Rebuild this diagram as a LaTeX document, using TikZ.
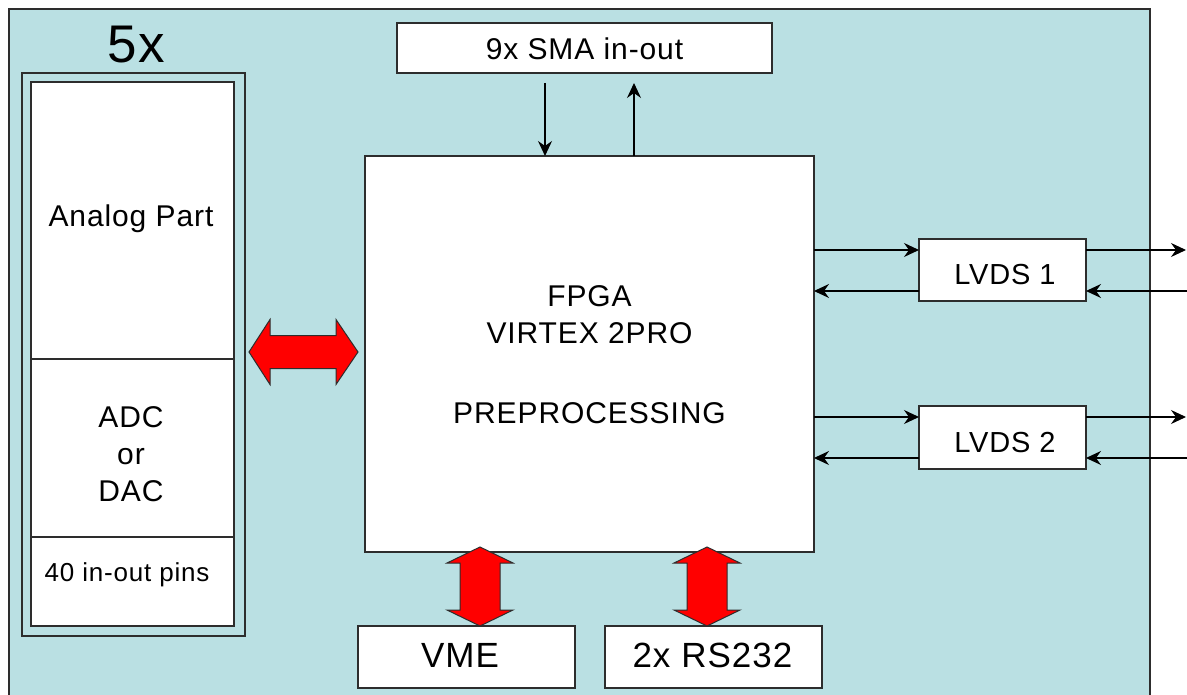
\documentclass[tikz,border=0pt]{standalone}
\usepackage{fontspec}
\setmainfont{Liberation Sans}[LetterSpace=3]
\usetikzlibrary{arrows.meta,calc}
\definecolor{bgc}{RGB}{186,224,227}
\definecolor{edgec}{RGB}{45,45,45}
\newcommand\fsz[1]{\fontsize{#1}{#1}\selectfont}
\newcommand\harr[2]{\draw[redarr] (#1) -- ($(#1)+(21,-32.5)$) -- ($(#1)+(21,-16.5)$) -- ($(#2)+(-22,-16.5)$) -- ($(#2)+(-22,-32.5)$) -- (#2) -- ($(#2)+(-22,32.5)$) -- ($(#2)+(-22,16.5)$) -- ($(#1)+(21,16.5)$) -- ($(#1)+(21,32.5)$) -- cycle;}
\newcommand\varr[2]{\draw[redarr] (#1) -- ($(#1)+(33,16)$) -- ($(#1)+(20,16)$) -- ($(#2)+(20,-16)$) -- ($(#2)+(33,-16)$) -- (#2) -- ($(#2)+(-33,-16)$) -- ($(#2)+(-20,-16)$) -- ($(#1)+(-20,16)$) -- ($(#1)+(-33,16)$) -- cycle;}
\begin{document}
\begin{tikzpicture}[x=1pt,y=-1pt,
  box/.style={draw=edgec, line width=1.4pt, fill=white, anchor=north west, inner sep=0pt, outer sep=0pt},
  lbl/.style={anchor=base, inner sep=0pt, outer sep=0pt, text=black},
  arr/.style={draw=black, line width=1.2pt, -{Stealth[length=15pt,width=14pt,inset=5pt]}},
  redarr/.style={fill=red, draw=edgec, line width=1pt, line join=miter}]
\useasboundingbox (0,0) rectangle (1187,695);
% background panel
\fill[bgc] (9,9) rectangle (1150,700);
\draw[edgec, line width=1.4pt] (9,700) -- (9,9) -- (1150,9) -- (1150,700);

% 5x block
\node[box, fill=none, minimum width=223pt, minimum height=563pt] (outer) at (22,73) {};
\node[box, minimum width=203pt, minimum height=544pt] (inner) at (31,82) {};
\draw[edgec, line width=1.4pt] (inner.west |- 0,359) -- (inner.east |- 0,359);
\draw[edgec, line width=1.4pt] (inner.west |- 0,537) -- (inner.east |- 0,537);
\node[lbl, font=\fsz{53}] (t5x) at (136,63) {5x};
\node[lbl, font=\fsz{30}] (tanalog) at (131,227) {Analog Part};
\node[lbl, font=\fsz{30}] (tadc) at (131,427) {ADC};
\node[lbl, font=\fsz{30}] (tor) at (131,464) {or};
\node[lbl, font=\fsz{30}] (tdac) at (131,501) {DAC};
\node[lbl, font=\fsz{26}] (tpins) at (127,581) {40 in-out pins};

% boxes
\node[box, minimum width=375pt, minimum height=50pt] (sma) at (397,23) {};
\node[lbl, font=\fsz{30}] (tsma) at (584.5,60) {9x SMA in-out};
\node[box, minimum width=449pt, minimum height=396pt] (fpga) at (365,156) {};
\node[lbl, font=\fsz{30}] (tfpga) at (589.5,306) {FPGA};
\node[lbl, font=\fsz{30}] (tvirtex) at (589.5,344) {VIRTEX 2PRO};
\node[lbl, font=\fsz{30}] (tpre) at (589.5,423) {PREPROCESSING};
\node[box, minimum width=167pt, minimum height=62pt] (lvds1) at (919,239) {};
\node[lbl, font=\fsz{29}] (tl1) at (1005,285) {LVDS 1};
\node[box, minimum width=167pt, minimum height=63pt] (lvds2) at (919,406) {};
\node[lbl, font=\fsz{29}] (tl2) at (1005,452) {LVDS 2};
\node[box, minimum width=217pt, minimum height=62pt] (vme) at (358,626) {};
\node[lbl, font=\fsz{35}] (tvme) at (460,667) {VME};
\node[box, minimum width=217pt, minimum height=62pt] (rs) at (605,626) {};
\node[lbl, font=\fsz{35}] (trs) at (712.5,667) {2x RS232};

% SMA arrows
\coordinate (s1) at (545,83);
\coordinate (s2) at (634,83);
\draw[arr] (s1) -- (s1 |- fpga.north);
\draw[arr] (s2 |- fpga.north) -- (s2);

% LVDS arrows
\coordinate (r1) at (1186,250);
\coordinate (r2) at (1187,291);
\coordinate (r3) at (1186,417);
\coordinate (r4) at (1187,458);
\draw[arr] (fpga.east |- r1) -- (lvds1.west |- r1);
\draw[arr] (lvds1.west |- r2) -- (fpga.east |- r2);
\draw[arr] (lvds1.east |- r1) -- (r1);
\draw[arr] (r2) -- (lvds1.east |- r2);
\draw[arr] (fpga.east |- r3) -- (lvds2.west |- r3);
\draw[arr] (lvds2.west |- r4) -- (fpga.east |- r4);
\draw[arr] (lvds2.east |- r3) -- (r3);
\draw[arr] (r4) -- (lvds2.east |- r4);

% red double arrows
\coordinate (h1) at (249,352);
\coordinate (h2) at (358,352);
\harr{h1}{h2}
\coordinate (v1) at (480,547);
\coordinate (v2) at (480,626);
\varr{v1}{v2}
\coordinate (w1) at (707,547);
\coordinate (w2) at (707,626);
\varr{w1}{w2}
\end{tikzpicture}
\end{document}
